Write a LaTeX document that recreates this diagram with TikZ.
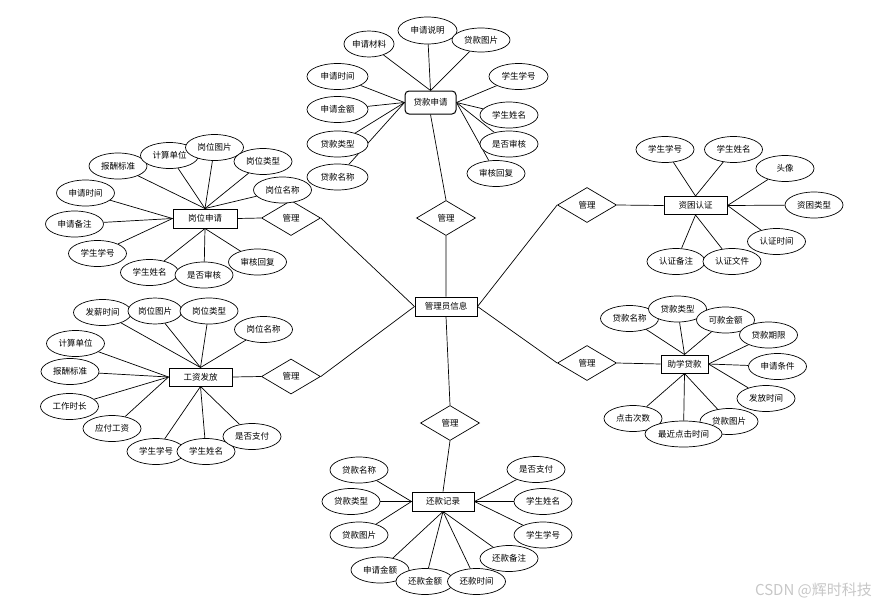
\documentclass[tikz,border=0pt]{standalone}
\usepackage{fontspec}
\newfontfamily\cjk{Noto Sans CJK SC}
\usetikzlibrary{shapes.geometric,backgrounds}
\begin{document}
\begin{tikzpicture}[x=1pt,y=-1pt,
  every node/.style={font=\cjk\fontsize{8.5}{10}\selectfont, inner sep=0pt},
  attr/.style={draw, ellipse, fill=white, minimum width=58pt, minimum height=26pt, line width=0.7pt},
  ent/.style={draw, rectangle, fill=white, line width=1pt},
  rel/.style={draw, diamond, fill=white, minimum width=59pt, minimum height=35pt, line width=0.7pt},
  conn/.style={line width=0.7pt}]
\useasboundingbox (0,0) rectangle (882,605);

% entities
\node[ent, minimum width=62pt, minimum height=19pt] (E0) at (446,306.5) {管理员信息};
\node[ent, rounded corners=4pt, minimum width=51pt, minimum height=23pt] (E1) at (430.5,102.5) {贷款申请};
\node[ent, minimum width=64pt, minimum height=19pt] (E2) at (205,218.5) {岗位申请};
\node[ent, minimum width=63pt, minimum height=18pt] (E3) at (200.5,377) {工资发放};
\node[ent, minimum width=63pt, minimum height=18pt] (E4) at (695.5,205.5) {资困认证};
\node[ent, minimum width=47pt, minimum height=18pt] (E5) at (684.5,364) {助学贷款};
\node[ent, minimum width=62pt, minimum height=19pt] (E6) at (443,501.5) {还款记录};

% relations
\node[rel] (R1) at (446,218) {管理};
\node[rel] (R2) at (291,218) {管理};
\node[rel] (R3) at (291,376.5) {管理};
\node[rel] (R4) at (587,205) {管理};
\node[rel] (R5) at (587,363) {管理};
\node[rel] (R6) at (450,423) {管理};

% attributes of 贷款申请
\node[attr, minimum width=50pt] (a11) at (369,44) {申请材料};
\node[attr, minimum width=59pt, minimum height=27pt] (a12) at (427.5,30.5) {申请说明};
\node[attr, minimum height=24pt] (a13) at (481,40) {贷款图片};
\node[attr, minimum width=61pt] (a14) at (337.5,76.5) {申请时间};
\node[attr, minimum width=61pt] (a15) at (337.5,109.5) {申请金额};
\node[attr, minimum width=61pt] (a16) at (337.5,144) {贷款类型};
\node[attr, minimum width=61pt] (a17) at (337.5,177) {贷款名称};
\node[attr, minimum width=59pt] (a18) at (518.5,76.5) {学生学号};
\node[attr] (a19) at (509,115) {学生姓名};
\node[attr] (a1a) at (509,144) {是否审核};
\node[attr] (a1b) at (496,173.5) {审核回复};

% attributes of 岗位申请
\node[attr] (a21) at (118,166) {报酬标准};
\node[attr] (a22) at (169.5,155.5) {计算单位};
\node[attr] (a23) at (214.5,147.5) {岗位图片};
\node[attr] (a24) at (263,161.5) {岗位类型};
\node[attr] (a25) at (282.5,190) {岗位名称};
\node[attr] (a26) at (85.5,193) {申请时间};
\node[attr] (a27) at (74.5,224) {申请备注};
\node[attr] (a28) at (97.5,253.5) {学生学号};
\node[attr] (a29) at (149.5,272.5) {学生姓名};
\node[attr] (a2a) at (204,275) {是否审核};
\node[attr] (a2b) at (257.5,262) {审核回复};

% attributes of 工资发放
\node[attr] (a31) at (102.5,312.5) {发薪时间};
\node[attr, minimum width=54pt] (a32) at (155,311) {岗位图片};
\node[attr] (a33) at (209,311) {岗位类型};
\node[attr] (a34) at (263.5,329.5) {岗位名称};
\node[attr] (a35) at (75.5,343.5) {计算单位};
\node[attr] (a36) at (70,371.5) {报酬标准};
\node[attr] (a37) at (69.5,406.5) {工作时长};
\node[attr] (a38) at (112,428.5) {应付工资};
\node[attr] (a39) at (156,451.5) {学生学号};
\node[attr] (a3a) at (206,451.5) {学生姓名};
\node[attr] (a3b) at (252,436.5) {是否支付};

% attributes of 资困认证
\node[attr] (a41) at (665,149.5) {学生学号};
\node[attr] (a42) at (733.5,149.5) {学生姓名};
\node[attr] (a43) at (785,168.5) {头像};
\node[attr] (a44) at (814,205) {资困类型};
\node[attr] (a45) at (776.5,241.5) {认证时间};
\node[attr] (a46) at (676,261.5) {认证备注};
\node[attr] (a47) at (732,261.5) {认证文件};

% attributes of 助学贷款
\node[attr] (a51) at (629.5,318.5) {贷款名称};
\node[attr] (a52) at (677.5,309) {贷款类型};
\node[attr] (a53) at (725.5,320) {可款金额};
\node[attr] (a54) at (768.5,335) {贷款期限};
\node[attr] (a55) at (777.5,366.5) {申请条件};
\node[attr] (a56) at (766,398.5) {发放时间};
\node[attr] (a59) at (633,418.5) {点击次数};
\node[attr] (a57) at (729,421.5) {贷款图片};
\node[attr, minimum width=77pt] (a58) at (683.5,434) {最近点击时间};

% attributes of 还款记录
\node[attr] (a61) at (359,470) {贷款名称};
\node[attr] (a62) at (351,501.5) {贷款类型};
\node[attr] (a63) at (359,535) {贷款图片};
\node[attr] (a64) at (380,570) {申请金额};
\node[attr] (a65) at (425,581.5) {还款金额};
\node[attr] (a66) at (476.5,581.5) {还款时间};
\node[attr] (a67) at (509,558.5) {还款备注};
\node[attr] (a68) at (536,469.5) {是否支付};
\node[attr] (a69) at (543,501.5) {学生姓名};
\node[attr] (a6a) at (543,535) {学生学号};

% watermark
\node[font=\cjk\fontsize{15}{17}\selectfont, text=black!22] (wm) at (813.5,590) {CSDN @辉时科技};

\begin{pgfonlayer}{background}
\draw[conn] (E1.south) -- (R1.north) (R1.south) -- (E0.north);
\draw[conn] (E2.east) -- (R2.west) (R2.east) -- (E0.west);
\draw[conn] (E3.east) -- (R3.west) (R3.east) -- (E0.west);
\draw[conn] (E4.west) -- (R4.east) (R4.west) -- (E0.east);
\draw[conn] (E5.west) -- (R5.east) (R5.west) -- (E0.east);
\draw[conn] (E6.north) -- (R6.south) (R6.north) -- (E0.south);
\foreach \a in {a11,a12,a13} \draw[conn] (\a) -- (E1.north);
\foreach \a in {a14,a15,a16,a17} \draw[conn] (\a) -- (E1.west);
\foreach \a in {a18,a19,a1a,a1b} \draw[conn] (\a) -- (E1.east);
\foreach \a in {a21,a22,a23,a24,a25} \draw[conn] (\a) -- (E2.north);
\foreach \a in {a26,a27,a28} \draw[conn] (\a) -- (E2.west);
\foreach \a in {a29,a2a,a2b} \draw[conn] (\a) -- (E2.south);
\foreach \a in {a31,a32,a33,a34} \draw[conn] (\a) -- (E3.north);
\foreach \a in {a35,a36,a37,a38} \draw[conn] (\a) -- (E3.west);
\foreach \a in {a39,a3a,a3b} \draw[conn] (\a) -- (E3.south);
\foreach \a in {a41,a42} \draw[conn] (\a) -- (E4.north);
\foreach \a in {a43,a44,a45} \draw[conn] (\a) -- (E4.east);
\foreach \a in {a46,a47} \draw[conn] (\a) -- (E4.south);
\foreach \a in {a51,a52,a53} \draw[conn] (\a) -- (E5.north);
\foreach \a in {a54,a55,a56} \draw[conn] (\a) -- (E5.east);
\foreach \a in {a57,a58,a59} \draw[conn] (\a) -- (E5.south);
\foreach \a in {a61,a62,a63} \draw[conn] (\a) -- (E6.west);
\foreach \a in {a64,a65,a66,a67} \draw[conn] (\a) -- (E6.south);
\foreach \a in {a68,a69,a6a} \draw[conn] (\a) -- (E6.east);
\end{pgfonlayer}
\end{tikzpicture}
\end{document}
